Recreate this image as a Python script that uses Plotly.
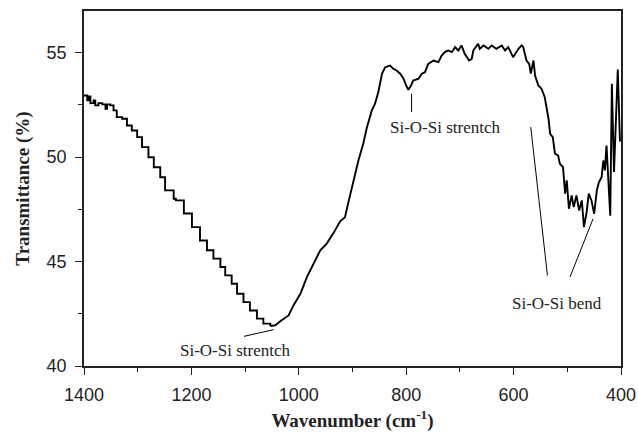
import plotly.graph_objects as go

# Left descending branch (staircase digitisation look)
wn_left = [1400, 1394, 1391, 1388, 1382, 1379, 1373, 1366, 1360, 1357, 1351, 1345, 1339,
           1329, 1320, 1311, 1301, 1292, 1280, 1270, 1258, 1249, 1233, 1229, 1214, 1199,
           1184, 1171, 1159, 1146, 1137, 1125, 1115, 1103, 1091, 1078, 1066, 1053]
tr_left = [52.95, 52.72, 52.91, 52.59, 52.72, 52.48, 52.59, 52.53, 52.32, 52.53, 52.48, 52.24,
           51.92, 51.84, 51.52, 51.28, 50.96, 50.48, 50.0, 49.52, 49.04, 48.41, 48.01, 47.93,
           47.3, 46.65, 46.01, 45.54, 45.14, 44.74, 44.34, 43.94, 43.46, 43.06, 42.66, 42.27,
           42.03, 41.91]

# Remaining spectrum
wn_right = [1053, 1044, 1032, 1019, 1010, 997, 985, 973, 960, 948, 936, 923, 914, 908, 898,
            889, 880, 873, 864, 858, 852, 845, 839, 830, 824, 818, 811, 805, 800, 796, 791,
            787, 777, 771, 765, 759, 749, 740, 734, 728, 722, 715, 709, 703, 697, 691, 683,
            678, 675, 669, 666, 663, 656, 647, 641, 632, 622, 616, 610, 601, 591, 585, 582,
            576, 571, 568, 563, 560, 554, 548, 542, 535, 532, 527, 523, 517, 514, 508, 504,
            501, 497, 492, 488, 483, 478, 473, 469, 464, 460, 455, 450, 445, 441, 436, 433,
            430, 427, 420, 417, 413, 406, 402, 400]
tr_right = [41.91, 41.95, 42.19, 42.42, 42.9, 43.46, 44.26, 44.9, 45.54, 45.86, 46.34, 46.93,
            47.13, 47.8, 48.89, 49.84, 50.64, 51.44, 52.24, 52.56, 53.11, 54.0, 54.31, 54.39,
            54.23, 54.15, 54.0, 53.76, 53.43, 53.23, 53.43, 53.67, 53.76, 54.0, 54.07, 54.47,
            54.63, 54.55, 54.87, 55.03, 55.11, 55.03, 55.27, 55.11, 55.35, 54.95, 54.63,
            54.71, 55.11, 55.35, 55.43, 55.19, 55.35, 55.19, 55.35, 55.19, 55.35, 55.11,
            55.27, 54.79, 55.19, 55.35, 55.27, 54.63, 54.47, 54.0, 54.63, 53.91, 53.43,
            53.28, 52.87, 51.84, 51.12, 50.96, 50.17, 50.08, 49.69, 49.52, 48.25, 48.89,
            47.53, 48.17, 47.61, 48.17, 47.45, 47.93, 46.65, 47.37, 48.25, 47.93, 47.29,
            48.41, 48.81, 49.05, 49.84, 49.37, 50.56, 47.2, 53.52, 49.29, 54.2, 50.8, 50.8]

x_ticks = [1400, 1200, 1000, 800, 600, 400]
y_ticks = [40, 45, 50, 55]

labels = ["Si-O-Si strentch", "Si-O-Si strentch", "Si-O-Si bend"]
label_x = [1117, 727, 520]
label_y = [40.75, 51.41, 42.98]
# annotation leader lines: (x0, y0, x1, y1)
leaders = [(1102, 41.42, 1047, 41.74),
           (790, 53.04, 790, 52.16),
           (568, 51.44, 537, 44.34),
           (495, 44.26, 452, 47.05)]

line_style = dict(color="black", width=1.9)
fig = go.Figure()
fig.add_trace(go.Scatter(x=wn_left, y=tr_left, mode="lines", line=dict(shape="hv", **line_style),
                         showlegend=False, hoverinfo="skip"))
fig.add_trace(go.Scatter(x=wn_right, y=tr_right, mode="lines", line=dict(shape="linear", **line_style),
                         showlegend=False, hoverinfo="skip"))

for t, xx, yy in zip(labels, label_x, label_y):
    fig.add_annotation(x=xx, y=yy, text=t, showarrow=False,
                       font=dict(family="Liberation Serif", size=17, color="#222"))
for x0, y0, x1, y1 in leaders:
    fig.add_shape(type="line", x0=x0, y0=y0, x1=x1, y1=y1, xref="x", yref="y",
                  line=dict(color="black", width=1))

axis_font = dict(family="Liberation Sans, Arial", size=18, color="#222")
title_font = dict(family="Liberation Serif, Times New Roman", size=19, color="#222")

fig.update_layout(
    width=638, height=432,
    margin=dict(l=84, r=17, t=11, b=66),
    paper_bgcolor="white", plot_bgcolor="white",
    xaxis=dict(range=[1400, 400], tickvals=x_ticks, ticks="outside", ticklen=7, tickwidth=1,
               tickcolor="#222", showline=True, linecolor="#222", linewidth=1.5, mirror=True,
               showgrid=False, zeroline=False, tickfont=axis_font, automargin=False,
               ticklabelstandoff=5,
               minor=dict(dtick=100, tick0=400, ticks="outside", ticklen=4, tickcolor="#222"),
               title=dict(text="<b>Wavenumber (cm<sup>-1</sup>)</b>", font=title_font, standoff=10)),
    yaxis=dict(range=[40, 57], tickvals=y_ticks, ticks="outside", ticklen=7, tickwidth=1,
               tickcolor="#222", showline=True, linecolor="#222", linewidth=1.5, mirror=True,
               showgrid=False, zeroline=False, tickfont=axis_font, automargin=False,
               ticklabelstandoff=5,
               minor=dict(dtick=2.5, tick0=40, ticks="outside", ticklen=4, tickcolor="#222"),
               title=dict(text="<b>Transmittance (%)</b>", font=title_font, standoff=12)),
    xaxis2=dict(overlaying="x", side="top", range=[1400, 400], dtick=100, tick0=400,
                ticks="outside", ticklen=2, tickcolor="#444", showticklabels=False,
                showgrid=False, zeroline=False, showline=False, automargin=False),
    yaxis2=dict(overlaying="y", side="right", range=[40, 57], dtick=1.7, tick0=40,
                ticks="inside", ticklen=3, tickcolor="#444", showticklabels=False,
                showgrid=False, zeroline=False, showline=False, automargin=False),
)
fig.write_html("out.html", config={"displayModeBar": False},
               post_script="document.body.style.margin='0';")
